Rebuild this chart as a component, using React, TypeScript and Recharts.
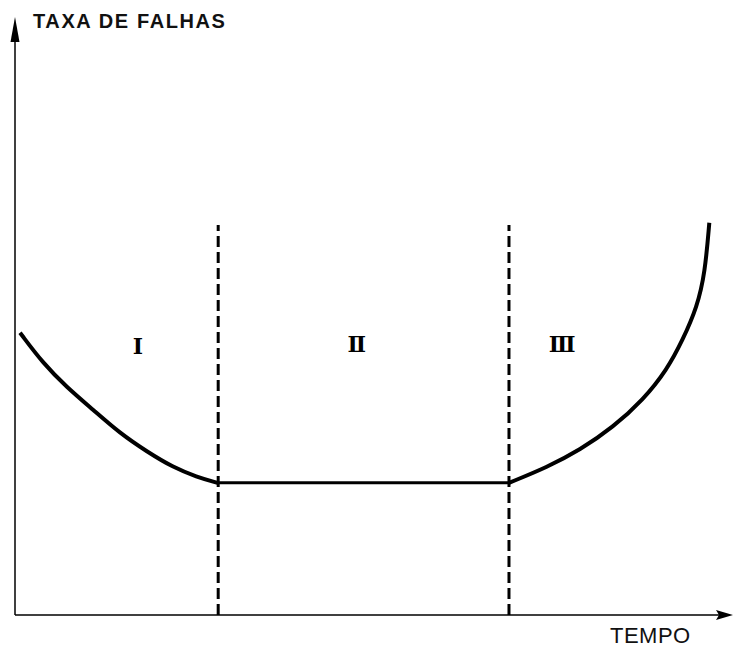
import React from "react";
import {
  LineChart,
  Line,
  XAxis,
  YAxis,
  ReferenceLine,
  ReferenceDot,
} from "recharts";

// bathtub curve (x = tempo, y = taxa de falhas, 0..100)
// phase I: infant mortality
const tempoI = [0.7, 3.9, 7.2, 10.9, 14.6, 18.4, 22.0, 25.3, 28.2];
const taxaI = [47.2, 42.1, 38.1, 34.3, 30.4, 27.3, 24.7, 23.1, 22.1];
// phase II: constant rate
const tempoII = [28.2, 68.8];
const taxaII = [22.1, 22.1];
// phase III: wear-out
const tempoIII = [68.8, 74.1, 78.7, 83.3, 87.5, 90.8, 93.0, 95.0, 96.1, 96.7];
const taxaIII = [22.1, 24.7, 27.6, 31.4, 36.0, 41.0, 46.0, 51.5, 57.2, 65.6];

// phase boundaries and their dashed height
const boundaries = [28.3, 68.8];
const boundaryTop = 65.2;

const phaseNames = ["Ⅰ", "Ⅱ", "Ⅲ"];
const phaseX = [17.1, 47.6, 76.2];
const phaseY = [45.0, 45.3, 45.3];

const toRows = (xs: number[], ys: number[]) => xs.map((t, i) => ({ t, v: ys[i] }));
const dataI = toRows(tempoI, taxaI);
const dataII = toRows(tempoII, taxaII);
const dataIII = toRows(tempoIII, taxaIII);

const W = 733;
const H = 647;

const ArrowUp = (p: any) => (
  <path d={`M${p.cx},${p.cy} L${p.cx + 4.5},${p.cy + 25} L${p.cx - 4.5},${p.cy + 25} z`} fill="#000" />
);
const ArrowRight = (p: any) => (
  <path
    d={`M${p.cx},${p.cy} L${p.cx - 17},${p.cy - 5} L${p.cx - 14},${p.cy} L${p.cx - 17},${p.cy + 5} z`}
    fill="#000"
  />
);

export default function App() {
  return (
    <div style={{ position: "absolute", left: 0, top: 0, background: "#fff" }}>
      <LineChart width={W} height={H} margin={{ top: 17, right: 0, bottom: 32, left: 15 }}>
        <XAxis dataKey="t" type="number" domain={[0, 100]} hide />
        <YAxis type="number" domain={[0, 100]} hide />
        {/* axes */}
        <ReferenceLine segment={[{ x: 0, y: 0 }, { x: 0, y: 99 }]} stroke="#000" strokeWidth={1.5} />
        <ReferenceLine segment={[{ x: 0, y: 0 }, { x: 99, y: 0 }]} stroke="#000" strokeWidth={1.5} />
        <ReferenceDot x={0} y={100} r={0} shape={ArrowUp} />
        <ReferenceDot x={100} y={0} r={0} shape={ArrowRight} />
        {boundaries.map((b) => (
          <ReferenceLine
            key={b}
            segment={[
              { x: b, y: 0 },
              { x: b, y: boundaryTop },
            ]}
            stroke="#000"
            strokeWidth={3}
            strokeDasharray="11 5"
          />
        ))}
        {phaseNames.map((n, i) => (
          <ReferenceDot
            key={n}
            x={phaseX[i]}
            y={phaseY[i]}
            r={0}
            stroke="none"
            fill="none"
            label={{
              value: n,
              position: "center",
              fill: "#000",
              fontSize: 22,
              fontWeight: "bold",
              fontFamily: "DejaVu Serif",
            }}
          />
        ))}
        <Line data={dataI} type="basis" dataKey="v" stroke="#000" strokeWidth={4} dot={false} isAnimationActive={false} />
        <Line data={dataII} type="linear" dataKey="v" stroke="#000" strokeWidth={3} dot={false} isAnimationActive={false} />
        <Line data={dataIII} type="basis" dataKey="v" stroke="#000" strokeWidth={4} dot={false} isAnimationActive={false} />
        <text
          x={33}
          y={28}
          fontFamily="Liberation Sans, Arial, sans-serif"
          fontSize={20}
          fontWeight="bold"
          letterSpacing={1.6}
          fill="#111"
        >
          TAXA DE FALHAS
        </text>
        <text
          x={610}
          y={643}
          fontFamily="Liberation Sans, Arial, sans-serif"
          fontSize={22}
          letterSpacing={0.5}
          fill="#111"
        >
          TEMPO
        </text>
      </LineChart>
    </div>
  );
}
